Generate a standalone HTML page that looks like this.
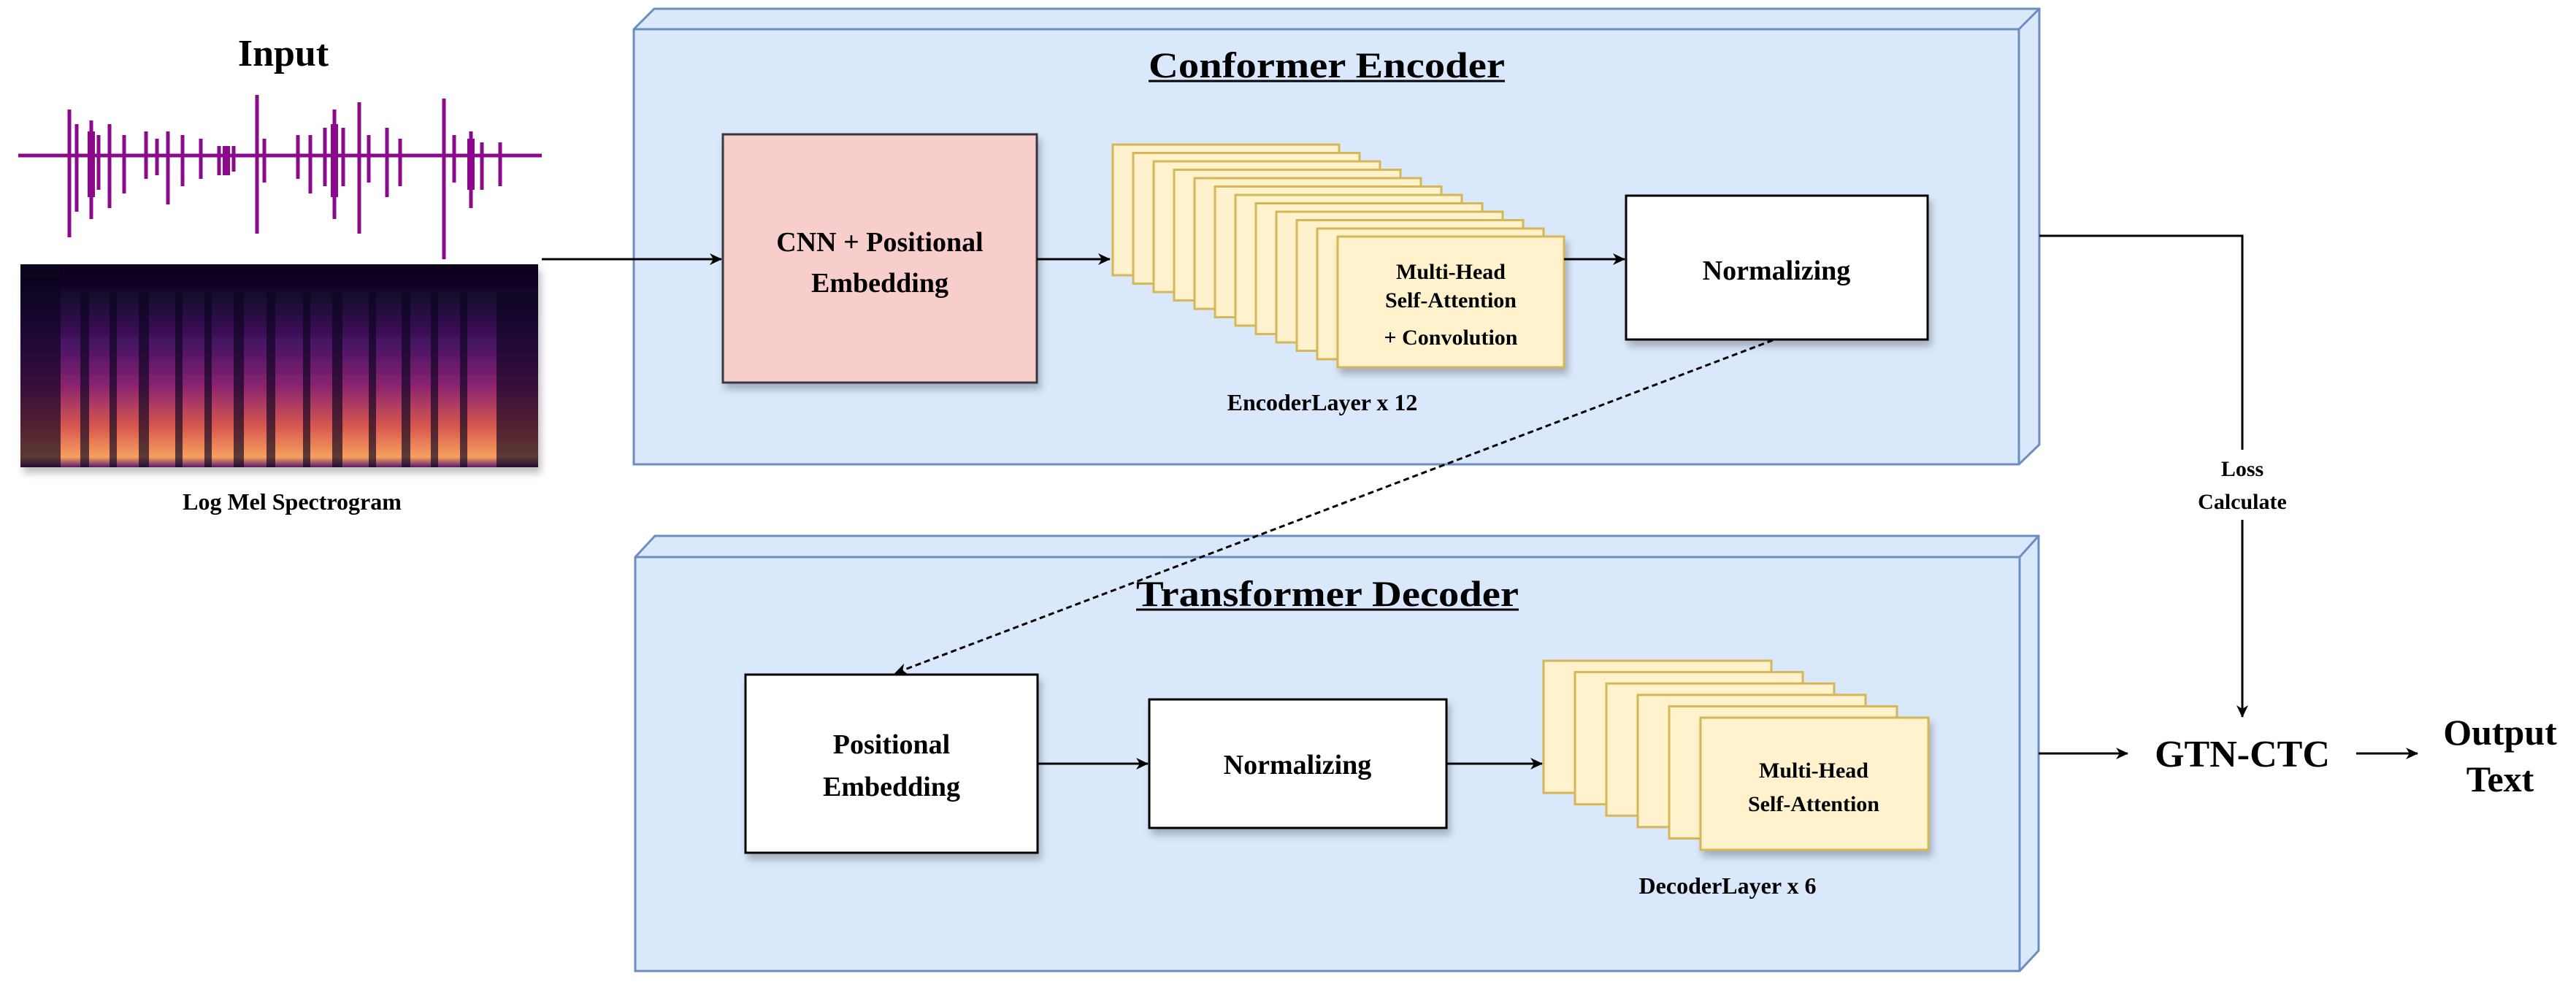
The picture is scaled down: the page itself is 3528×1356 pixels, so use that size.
<!DOCTYPE html>
<html><head><meta charset="utf-8"><style>
html,body{margin:0;padding:0;background:#fff;}
svg{display:block;}
text{font-family:"Liberation Serif",serif;font-weight:bold;fill:#000;}
</style></head><body>
<svg width="3528" height="1356" viewBox="0 0 3528 1356" xmlns="http://www.w3.org/2000/svg">
<defs>
<marker id="ar" markerWidth="18" markerHeight="18" refX="16" refY="9" orient="auto" markerUnits="userSpaceOnUse">
<path d="M0,1 L17,9 L0,17 L5,9 Z" fill="#000"/></marker>
<linearGradient id="spg" x1="0" y1="0" x2="0" y2="1">
<stop offset="0" stop-color="#0a0418"/><stop offset="0.15" stop-color="#14072c"/>
<stop offset="0.4" stop-color="#4a1466"/><stop offset="0.6" stop-color="#8a2470"/>
<stop offset="0.8" stop-color="#d8584e"/><stop offset="0.95" stop-color="#f6a060"/><stop offset="1" stop-color="#5a1a6a"/>
</linearGradient>
<filter id="sh" x="-10%" y="-10%" width="130%" height="130%"><feDropShadow dx="4" dy="8" stdDeviation="5" flood-opacity="0.25"/></filter>
</defs>

<text x="388" y="90" font-size="52" text-anchor="middle">Input</text>
<g stroke="#8b0a8b" fill="none">
<line x1="25" y1="213" x2="742" y2="213" stroke-width="5"/>
<g stroke-width="5">
<line x1="95" y1="150" x2="95" y2="325"/><line x1="105" y1="170" x2="105" y2="290"/><line x1="125" y1="165" x2="125" y2="300"/><line x1="135" y1="185" x2="135" y2="260"/>
<line x1="150" y1="170" x2="150" y2="285"/><line x1="170" y1="185" x2="170" y2="265"/>
<line x1="200" y1="180" x2="200" y2="245"/><line x1="215" y1="190" x2="215" y2="240"/><line x1="230" y1="180" x2="230" y2="280"/>
<line x1="250" y1="185" x2="250" y2="255"/><line x1="275" y1="190" x2="275" y2="245"/>
<line x1="300" y1="200" x2="300" y2="240"/><line x1="320" y1="200" x2="320" y2="235"/>
<line x1="352" y1="130" x2="352" y2="320"/><line x1="362" y1="190" x2="362" y2="250"/>
<line x1="408" y1="185" x2="408" y2="245"/><line x1="425" y1="185" x2="425" y2="265"/>
<line x1="445" y1="175" x2="445" y2="255"/>
<line x1="458" y1="150" x2="458" y2="300"/><line x1="470" y1="175" x2="470" y2="255"/>
<line x1="492" y1="140" x2="492" y2="320"/><line x1="505" y1="185" x2="505" y2="250"/>
<line x1="530" y1="175" x2="530" y2="270"/><line x1="548" y1="190" x2="548" y2="255"/>
<line x1="608" y1="135" x2="608" y2="355"/><line x1="622" y1="185" x2="622" y2="250"/>
<line x1="645" y1="180" x2="645" y2="285"/><line x1="660" y1="195" x2="660" y2="260"/><line x1="685" y1="195" x2="685" y2="255"/>
</g>
<g stroke-width="10">
<line x1="125" y1="180" x2="125" y2="270"/><line x1="310" y1="200" x2="310" y2="240"/>
<line x1="458" y1="170" x2="458" y2="270"/><line x1="645" y1="190" x2="645" y2="260"/>
</g>
</g>
<rect x="28" y="362" width="709" height="278" fill="url(#spg)" filter="url(#sh)"/>
<g fill="#0c0420" opacity="0.65">
<rect x="28" y="362" width="55" height="278"/>
<rect x="110" y="400" width="12" height="240"/><rect x="150" y="400" width="10" height="240"/>
<rect x="190" y="400" width="14" height="240"/><rect x="240" y="400" width="10" height="240"/>
<rect x="280" y="400" width="10" height="240"/><rect x="320" y="400" width="14" height="240"/>
<rect x="365" y="400" width="12" height="240"/><rect x="415" y="400" width="10" height="240"/>
<rect x="455" y="400" width="14" height="240"/><rect x="505" y="400" width="10" height="240"/>
<rect x="550" y="400" width="12" height="240"/><rect x="590" y="400" width="10" height="240"/>
<rect x="630" y="400" width="10" height="240"/><rect x="680" y="400" width="57" height="240"/>
</g>
<text x="400" y="698" font-size="32" text-anchor="middle">Log Mel Spectrogram</text>

<g stroke="#6c8ebf" stroke-width="3" fill="#dae8fc">
<polygon points="868,40 896,12 2793,12 2793,609 2765,636 868,636"/>
<line x1="868" y1="40" x2="2765" y2="40"/><line x1="2765" y1="40" x2="2765" y2="636"/><line x1="2765" y1="40" x2="2793" y2="12"/>
</g>
<text x="1573" y="106" font-size="50" textLength="488" lengthAdjust="spacingAndGlyphs">Conformer Encoder</text>
<line x1="1573" y1="111" x2="2061" y2="111" stroke="#000" stroke-width="3"/>

<rect x="990" y="184" width="430" height="340" fill="#f8cecc" stroke="#36393d" stroke-width="3" filter="url(#sh)"/>
<text x="1205" y="344" font-size="38" text-anchor="middle">CNN + Positional</text>
<text x="1205" y="400" font-size="38" text-anchor="middle">Embedding</text>

<g fill="#fff2cc" stroke="#d6b656" stroke-width="3">
<rect x="1524" y="198" width="310" height="179"/><rect x="1552" y="209.5" width="310" height="179"/>
<rect x="1580" y="221" width="310" height="179"/><rect x="1608" y="232.5" width="310" height="179"/>
<rect x="1636" y="244" width="310" height="179"/><rect x="1664" y="255.5" width="310" height="179"/>
<rect x="1692" y="267" width="310" height="179"/><rect x="1720" y="278.5" width="310" height="179"/>
<rect x="1748" y="290" width="310" height="179"/><rect x="1776" y="301.5" width="310" height="179"/>
<rect x="1804" y="313" width="310" height="179"/><rect x="1832" y="324" width="310" height="179" filter="url(#sh)"/>
</g>
<text x="1987" y="382" font-size="30" text-anchor="middle">Multi-Head</text>
<text x="1987" y="421" font-size="30" text-anchor="middle">Self-Attention</text>
<text x="1987" y="472" font-size="30" text-anchor="middle">+ Convolution</text>
<text x="1811" y="562" font-size="32" text-anchor="middle">EncoderLayer x 12</text>

<rect x="2227" y="268" width="413" height="197" fill="#fff" stroke="#000" stroke-width="3" filter="url(#sh)"/>
<text x="2433" y="383" font-size="38" text-anchor="middle">Normalizing</text>

<g stroke="#000" stroke-width="3" fill="none">
<line x1="742" y1="355" x2="988" y2="355" marker-end="url(#ar)"/>
<line x1="1420" y1="355" x2="1520" y2="355" marker-end="url(#ar)"/>
<line x1="2142" y1="355" x2="2225" y2="355" marker-end="url(#ar)"/>
<polyline points="2793,323 3071,323 3071,616"/>
<line x1="3071" y1="712" x2="3071" y2="982" marker-end="url(#ar)"/>
</g>
<text x="3071" y="652" font-size="30" text-anchor="middle">Loss</text>
<text x="3071" y="697" font-size="30" text-anchor="middle">Calculate</text>

<g stroke="#6c8ebf" stroke-width="3" fill="#dae8fc">
<polygon points="870,763 897,734 2792,734 2792,1302 2766,1330 870,1330"/>
<line x1="870" y1="763" x2="2766" y2="763"/><line x1="2766" y1="763" x2="2766" y2="1330"/><line x1="2766" y1="763" x2="2792" y2="734"/>
</g>
<text x="1556" y="830" font-size="50" textLength="524" lengthAdjust="spacingAndGlyphs">Transformer Decoder</text>
<line x1="1556" y1="835" x2="2080" y2="835" stroke="#000" stroke-width="3"/>

<rect x="1021" y="924" width="400" height="244" fill="#fff" stroke="#000" stroke-width="3" filter="url(#sh)"/>
<text x="1221" y="1032" font-size="38" text-anchor="middle">Positional</text>
<text x="1221" y="1090" font-size="38" text-anchor="middle">Embedding</text>

<rect x="1574" y="958" width="407" height="176" fill="#fff" stroke="#000" stroke-width="3" filter="url(#sh)"/>
<text x="1777" y="1060" font-size="38" text-anchor="middle">Normalizing</text>

<g fill="#fff2cc" stroke="#d6b656" stroke-width="3">
<rect x="2114" y="905" width="312" height="181"/><rect x="2157" y="920.6" width="312" height="181"/>
<rect x="2200" y="936.2" width="312" height="181"/><rect x="2243" y="951.8" width="312" height="181"/>
<rect x="2286" y="967.4" width="312" height="181"/><rect x="2329" y="983" width="312" height="181" filter="url(#sh)"/>
</g>
<text x="2484" y="1065" font-size="30" text-anchor="middle">Multi-Head</text>
<text x="2484" y="1111" font-size="30" text-anchor="middle">Self-Attention</text>
<text x="2366" y="1224" font-size="32" text-anchor="middle">DecoderLayer x 6</text>

<g stroke="#000" stroke-width="3" fill="none">
<line x1="2428" y1="466" x2="1226" y2="922" stroke-dasharray="8,5" marker-end="url(#ar)"/>
<line x1="1421" y1="1046" x2="1572" y2="1046" marker-end="url(#ar)"/>
<line x1="1981" y1="1046" x2="2112" y2="1046" marker-end="url(#ar)"/>
<line x1="2792" y1="1032" x2="2914" y2="1032" marker-end="url(#ar)"/>
<line x1="3227" y1="1032" x2="3311" y2="1032" marker-end="url(#ar)"/>
</g>
<text x="3071" y="1050" font-size="52" text-anchor="middle">GTN-CTC</text>
<text x="3424" y="1020" font-size="50" text-anchor="middle">Output</text>
<text x="3424" y="1084" font-size="50" text-anchor="middle">Text</text>
</svg>
</body></html>
